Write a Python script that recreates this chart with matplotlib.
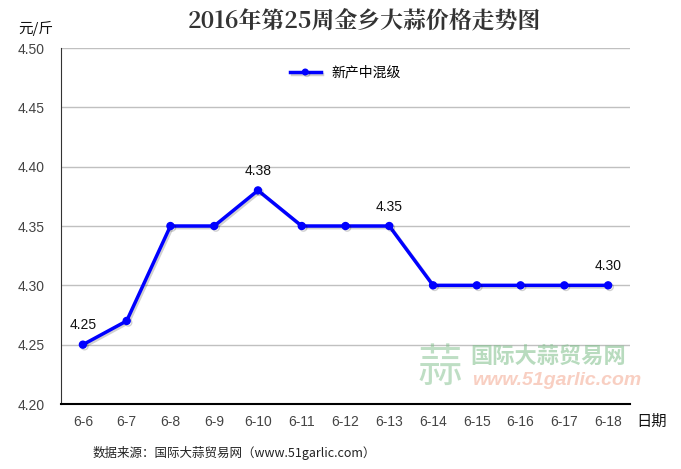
import numpy as np
import matplotlib.pyplot as plt
import matplotlib.patheffects as pe

plt.rcParams['font.family'] = ['Liberation Sans', 'Noto Sans CJK SC', 'DejaVu Sans']

dates = ['6-6', '6-7', '6-8', '6-9', '6-10', '6-11', '6-12', '6-13',
         '6-14', '6-15', '6-16', '6-17', '6-18']
prices = [4.25, 4.27, 4.35, 4.35, 4.38, 4.35, 4.35, 4.35,
          4.30, 4.30, 4.30, 4.30, 4.30]
labelled = [0, 4, 7, 12]
yticks = [4.20, 4.25, 4.30, 4.35, 4.40, 4.45, 4.50]

fig = plt.figure(figsize=(6.81, 4.69), dpi=100)
ax = fig.add_axes([61/681, 1 - 404/469, 569/681, 356/469])

x = np.arange(len(dates))
ax.plot(x, prices, color='#0000ff', lw=2.5, marker='o', ms=5, zorder=3,
        label='新产中混级',
        path_effects=[pe.SimpleLineShadow(offset=(1.2, -1.2), alpha=0.18), pe.Normal()])
for i in labelled:
    ax.annotate(f'{prices[i]:.2f}', (x[i], prices[i]), xytext=(0, 9),
                textcoords='offset points', ha='center', va='bottom',
                fontsize=10, color='#111111')

ax.set_xlim(-0.5, len(dates) - 0.5)
ax.set_ylim(4.20, 4.50)
ax.set_xticks(x)
ax.set_xticklabels(dates)
ax.set_yticks(yticks)
ax.set_yticklabels([f'{v:.2f}' for v in yticks])
ax.tick_params(length=0, labelsize=10, labelcolor='#444444', pad=8)
ax.tick_params(axis='y', pad=12)
ax.grid(axis='y', color='#c0c0c0', lw=1)
ax.set_axisbelow(True)
for s in ['top', 'right']:
    ax.spines[s].set_visible(False)
ax.spines['left'].set_color('#333333')
ax.spines['bottom'].set_color('#000000')
ax.spines['bottom'].set_linewidth(1.5)

leg = ax.legend(loc='upper center', bbox_to_anchor=(0.5, 0.985), frameon=False,
                fontsize=10, handlelength=2.2, markerscale=0.8)

fig.text(364/681, 1 - 22/469, '2016年第25周金乡大蒜价格走势图', ha='center', va='center',
         fontsize=16.5, fontweight='bold', color='#333333',
         family=['Noto Serif CJK SC', 'Noto Sans CJK SC'])
fig.text(18/681, 1 - 28/469, '元/斤', ha='left', va='center', fontsize=10.5,
         family=['Noto Sans CJK SC'], color='#111111')
fig.text(636/681, 1 - 421/469, '日期', ha='left', va='center', fontsize=11,
         family=['Noto Sans CJK SC'], color='#111111')
fig.text(93/681, 1 - 453/469, '数据来源：国际大蒜贸易网（www.51garlic.com）', ha='left',
         va='center', fontsize=9, family=['Noto Sans CJK SC'], color='#222222')

# watermark
fig.text(470/681, 1 - 357/469, '国际大蒜贸易网', ha='left', va='center', fontsize=16,
         fontweight='bold', family=['Noto Sans CJK SC'], color='#7fbf8a', alpha=0.55)
fig.text(472/681, 1 - 380/469, 'www.51garlic.com', ha='left', va='center', fontsize=14,
         style='italic', fontweight='bold', color='#f4a890', alpha=0.55)
fig.text(440/681, 1 - 368/469, '蒜', ha='center', va='center', fontsize=32,
         family=['Noto Sans CJK SC'], color='#7fbf8a', alpha=0.5)

fig.savefig('out.png', dpi=100)
